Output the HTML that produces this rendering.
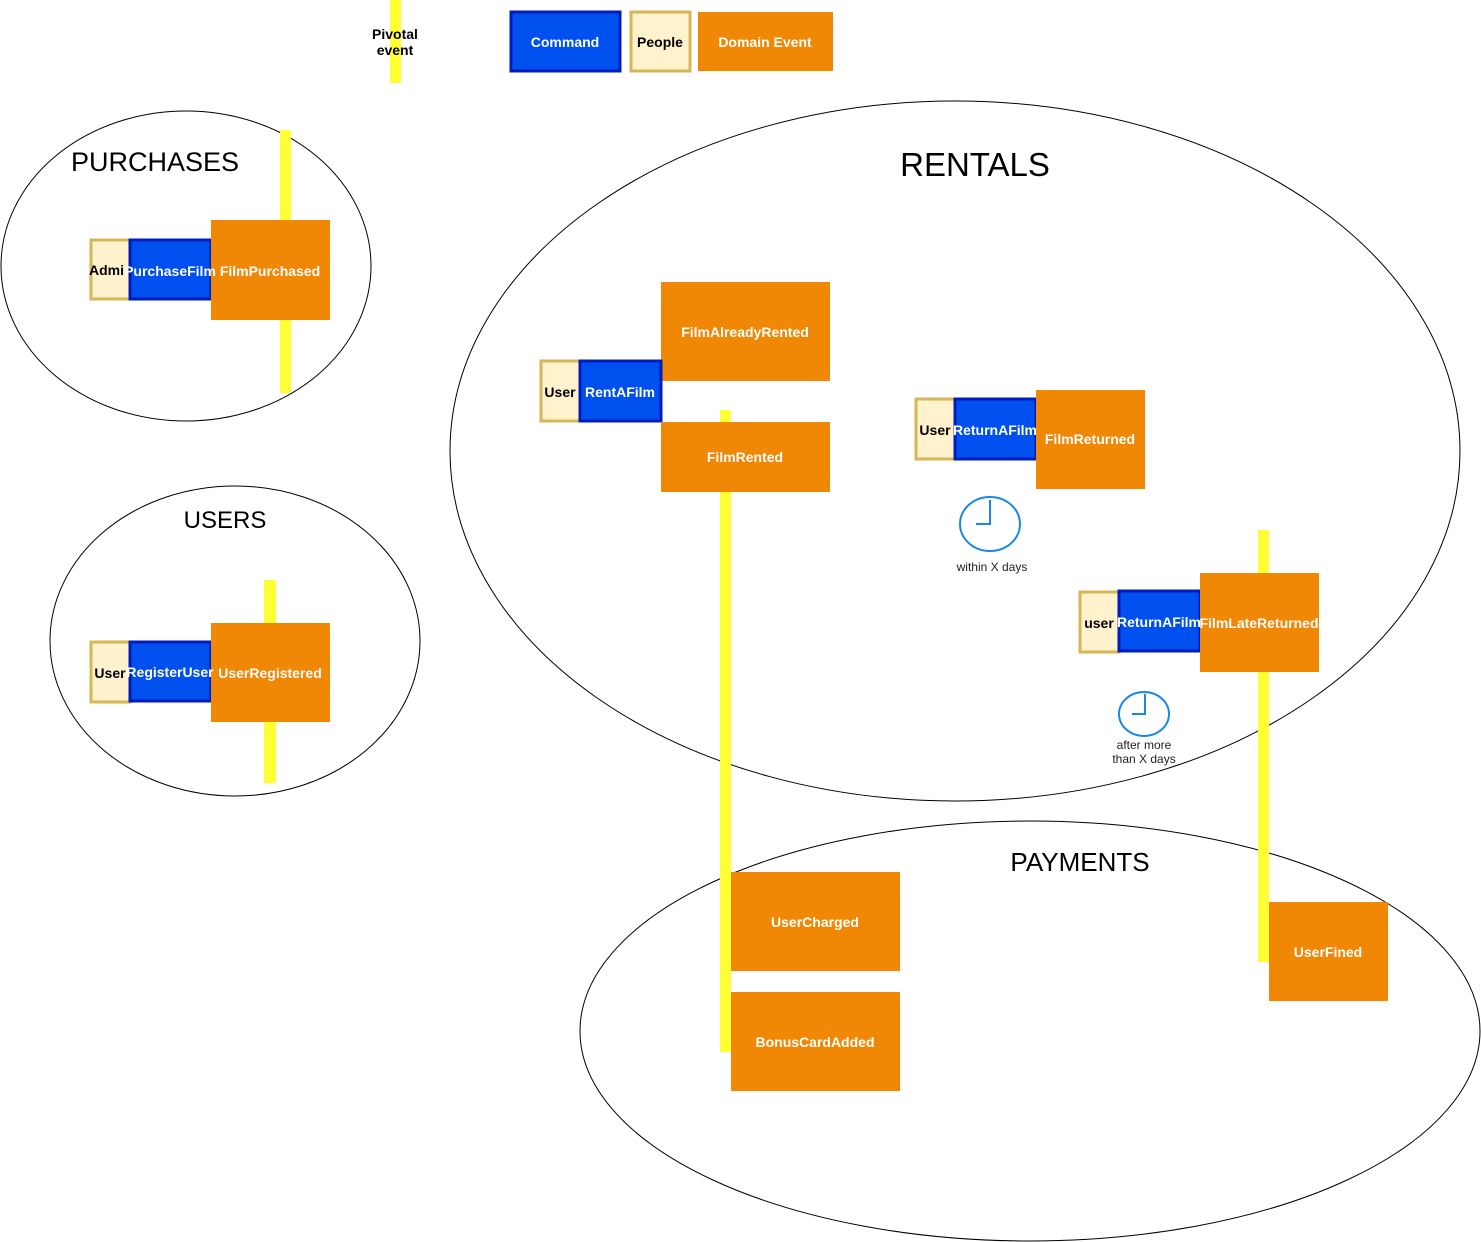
<!DOCTYPE html>
<html><head><meta charset="utf-8"><style>
html,body{margin:0;padding:0;background:#fff;}
svg{display:block;}
text{font-family:"Liberation Sans",Arial,sans-serif;}
.b{font-weight:bold;font-size:14px;}
</style></head><body>
<svg width="1481" height="1242" viewBox="0 0 1481 1242" xmlns="http://www.w3.org/2000/svg">
<ellipse cx="186" cy="266" rx="185" ry="155" fill="none" stroke="#000" stroke-width="1"/>
<ellipse cx="955" cy="451" rx="505" ry="350" fill="none" stroke="#000" stroke-width="1"/>
<ellipse cx="235" cy="641" rx="185" ry="155" fill="none" stroke="#000" stroke-width="1"/>
<ellipse cx="1030" cy="1031" rx="450" ry="210" fill="none" stroke="#000" stroke-width="1"/>
<text x="155" y="171" font-size="27" text-anchor="middle">PURCHASES</text>
<text x="975" y="176" font-size="33" text-anchor="middle">RENTALS</text>
<text x="225" y="528" font-size="24" text-anchor="middle">USERS</text>
<text x="1080" y="871" font-size="26" text-anchor="middle">PAYMENTS</text>
<g fill="#ffff33">
<rect x="390" y="0" width="11" height="83"/>
<rect x="280" y="130" width="11" height="263"/>
<rect x="720" y="410" width="11" height="642"/>
<rect x="1258" y="530" width="11" height="432"/>
<rect x="264" y="580" width="12" height="203"/>
</g>
<text x="395" y="39" class="b" text-anchor="middle">Pivotal</text>
<text x="395" y="55" class="b" text-anchor="middle">event</text>
<rect x="511" y="12" width="109" height="59" fill="#0050ef" stroke="#001dbc" stroke-width="3"/>
<text x="565" y="47" class="b" fill="#fff" text-anchor="middle">Command</text>
<rect x="631" y="12" width="59" height="59" fill="#fff2cc" stroke="#d6b656" stroke-width="3"/>
<text x="660" y="47" class="b" text-anchor="middle">People</text>
<rect x="698" y="12" width="135" height="59" fill="#f08705"/>
<text x="765" y="47" class="b" fill="#fff" text-anchor="middle">Domain Event</text>
<rect x="91" y="240" width="39" height="59" fill="#fff2cc" stroke="#d6b656" stroke-width="3"/>
<rect x="130" y="240" width="81" height="59" fill="#0050ef" stroke="#001dbc" stroke-width="3"/>
<text x="89" y="275" class="b">Admi</text>
<rect x="211" y="220" width="119" height="100" fill="#f08705"/>
<text x="270" y="276" class="b" fill="#fff" text-anchor="middle">FilmPurchased</text>
<rect x="91" y="642" width="39" height="60" fill="#fff2cc" stroke="#d6b656" stroke-width="3"/>
<text x="110" y="678" class="b" text-anchor="middle">User</text>
<rect x="130" y="642" width="81" height="59" fill="#0050ef" stroke="#001dbc" stroke-width="3"/>
<rect x="211" y="623" width="119" height="99" fill="#f08705"/>
<text x="270" y="678" class="b" fill="#fff" text-anchor="middle">UserRegistered</text>
<rect x="661" y="282" width="169" height="99" fill="#f08705"/>
<text x="745" y="337" class="b" fill="#fff" text-anchor="middle">FilmAlreadyRented</text>
<rect x="541" y="361" width="39" height="60" fill="#fff2cc" stroke="#d6b656" stroke-width="3"/>
<text x="560" y="397" class="b" text-anchor="middle">User</text>
<rect x="580" y="361" width="81" height="60" fill="#0050ef" stroke="#001dbc" stroke-width="3"/>
<text x="620" y="397" class="b" fill="#fff" text-anchor="middle">RentAFilm</text>
<rect x="661" y="422" width="169" height="70" fill="#f08705"/>
<text x="745" y="462" class="b" fill="#fff" text-anchor="middle">FilmRented</text>
<rect x="916" y="399" width="39" height="60" fill="#fff2cc" stroke="#d6b656" stroke-width="3"/>
<text x="935" y="435" class="b" text-anchor="middle">User</text>
<rect x="955" y="399" width="81" height="60" fill="#0050ef" stroke="#001dbc" stroke-width="3"/>
<text x="995" y="435" class="b" fill="#fff" text-anchor="middle">ReturnAFilm</text>
<rect x="1036" y="390" width="109" height="99" fill="#f08705"/>
<text x="1090" y="444" class="b" fill="#fff" text-anchor="middle">FilmReturned</text>
<ellipse cx="990" cy="524" rx="30" ry="27" fill="#fff" stroke="#1a88e8" stroke-width="2"/>
<path d="M990 500 V524 H976" fill="none" stroke="#1a88e8" stroke-width="2"/>
<text x="992" y="571" font-size="12" text-anchor="middle" fill="#222">within X days</text>
<rect x="1080" y="592" width="39" height="60" fill="#fff2cc" stroke="#d6b656" stroke-width="3"/>
<text x="1099" y="628" class="b" text-anchor="middle">user</text>
<rect x="1119" y="591" width="81" height="60" fill="#0050ef" stroke="#001dbc" stroke-width="3"/>
<text x="1159" y="627" class="b" fill="#fff" text-anchor="middle">ReturnAFilm</text>
<rect x="1200" y="573" width="119" height="99" fill="#f08705"/>
<text x="1259" y="628" class="b" fill="#fff" text-anchor="middle">FilmLateReturned</text>
<ellipse cx="1144" cy="714" rx="25" ry="22" fill="#fff" stroke="#1a88e8" stroke-width="2"/>
<path d="M1145 694 V714 H1132" fill="none" stroke="#1a88e8" stroke-width="2"/>
<text x="1144" y="749" font-size="12" text-anchor="middle" fill="#222">after more</text>
<text x="1144" y="763" font-size="12" text-anchor="middle" fill="#222">than X days</text>
<rect x="731" y="872" width="169" height="99" fill="#f08705"/>
<text x="815" y="927" class="b" fill="#fff" text-anchor="middle">UserCharged</text>
<rect x="731" y="992" width="169" height="99" fill="#f08705"/>
<text x="815" y="1047" class="b" fill="#fff" text-anchor="middle">BonusCardAdded</text>
<rect x="1269" y="902" width="119" height="99" fill="#f08705"/>
<text x="1328" y="957" class="b" fill="#fff" text-anchor="middle">UserFined</text>
<text x="170" y="276" class="b" fill="#fff" text-anchor="middle">PurchaseFilm</text>
<text x="170" y="677" class="b" fill="#fff" text-anchor="middle">RegisterUser</text>
</svg>
</body></html>
